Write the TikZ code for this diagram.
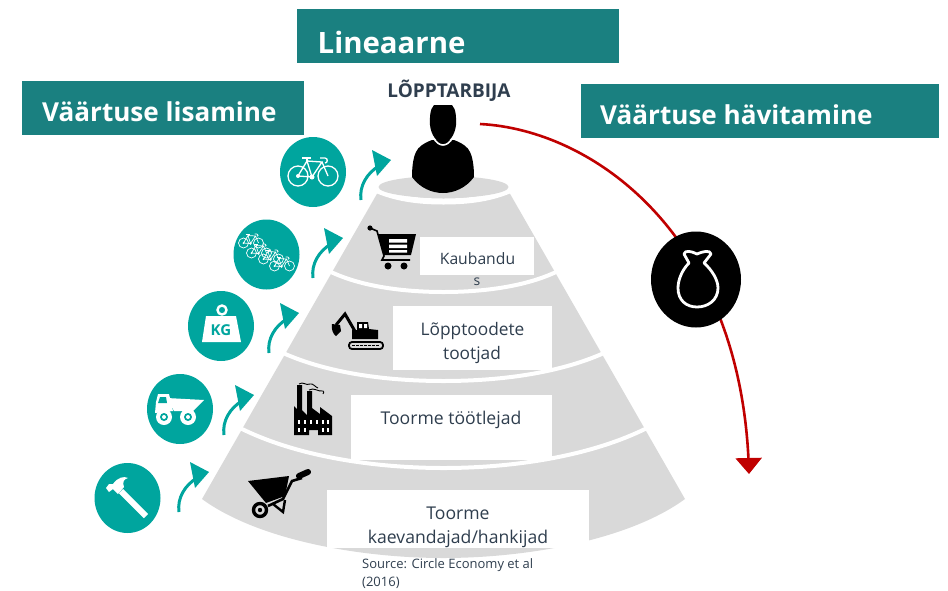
\documentclass[tikz,border=0pt]{standalone}
\usepackage{fontspec}
\setmainfont{Open Sans}
\usetikzlibrary{arrows.meta,bending}
\definecolor{headteal}{HTML}{1A8080}
\definecolor{circteal}{HTML}{00A59E}
\definecolor{pyrgrey}{HTML}{D9D9D9}
\definecolor{inkdark}{HTML}{2F3E4E}
\definecolor{redline}{HTML}{C00000}
\tikzset{
  x=1pt,y=-1pt,
  headbox/.style={fill=headteal,draw=none,inner sep=0pt,anchor=north west},
  headtext/.style={text=white,font=\bfseries,inner sep=0pt,anchor=base west},
  whitebox/.style={fill=white,draw=none,inner sep=0pt,anchor=north west},
  bodytext/.style={text=inkdark,inner sep=0pt,anchor=base,font=\fontsize{17.6}{20}\selectfont},
  band/.style={draw=white,line width=4pt},
  bike/.pic={
    \draw[white,line width=#1] (-15,4) circle[radius=10] (15,4) circle[radius=10];
    \draw[white,line width=#1] (-15,4) -- (-6,-11) -- (9,-10) -- (-1,5) -- cycle (-6,-11) -- (-1,5) (9,-10) -- (15,4);
    \draw[white,line width=#1] (-11,-14) -- (-2,-14) (-6,-14) -- (-6,-11);
    \draw[white,line width=#1] (7,-14) -- (12,-14) .. controls (15,-14) and (15,-9) .. (12,-9);
    \fill[white] (-1,5) circle[radius=2.5] (-15,4) circle[radius=2];
  },
  risearrow/.pic={
    \fill[circteal] (30,-40) -- (11,-50) -- (16,-24) -- cycle;
    \draw[circteal,line width=3pt] (0,0) .. controls (-2,-14) and (6,-27) .. (18,-34);
  }
}
\begin{document}
\begin{tikzpicture}
\useasboundingbox (0,0) rectangle (948,590);
% pyramid
\fill[pyrgrey] (378,192) -- (202,499) .. controls (258,540) and (360,558) .. (443.5,558) .. controls (527,558) and (629,540) .. (685,499) -- (509,192) -- cycle;
\draw[band,line width=6pt] (372,188) .. controls (395,199) and (420,201.5) .. (443.5,201.5) .. controls (467,201.5) and (492,199) .. (515,188);
\fill[pyrgrey] (443.5,187) ellipse[x radius=65pt,y radius=11pt];
\draw[band] (331,272) .. controls (365,288) and (410,292) .. (443.5,292) .. controls (477,292) and (522,288) .. (556,272);
\draw[band] (283,353) .. controls (330,374) and (390,381) .. (443.5,381) .. controls (497,381) and (557,374) .. (604,353);
\draw[band] (240,428) .. controls (300,458) and (380,468) .. (443.5,468) .. controls (507,468) and (587,458) .. (647,428);
% header boxes
\node[headbox,minimum width=322pt,minimum height=54pt] (hLin) at (297,9) {};
\node[headbox,minimum width=282pt,minimum height=54pt] (hAdd) at (22,81) {};
\node[headbox,minimum width=358pt,minimum height=54pt] (hDes) at (581,84) {};
\node[headtext,font=\bfseries\fontsize{29.4}{34}\selectfont] (tLin) at (317.5,53) {Lineaarne};
\node[headtext,font=\bfseries\fontsize{26.1}{30}\selectfont] (tAdd) at (42,121) {Väärtuse lisamine};
\node[headtext,font=\bfseries\fontsize{26.1}{30}\selectfont] (tDes) at (600,124) {Väärtuse hävitamine};
\node[text=inkdark,inner sep=0pt,anchor=base,font=\bfseries\fontsize{19}{22}\selectfont] (tTop) at (449,97) {LÕPPTARBIJA};
% white boxes
\node[whitebox,minimum width=114pt,minimum height=38pt] (b1) at (420,237) {};
\node[whitebox,minimum width=159pt,minimum height=64pt] (b2) at (393,306) {};
\node[whitebox,minimum width=201pt,minimum height=65pt] (b3) at (351,395) {};
\node[whitebox,minimum width=262pt,minimum height=58pt] (b4) at (327,490) {};
% body text
\node[bodytext,font=\fontsize{15.7}{18}\selectfont] (k1) at (477.5,264) {Kaubandu};
\node[bodytext,font=\fontsize{14}{16}\selectfont] (k2) at (477,285) {s};
\node[bodytext,font=\fontsize{17.3}{20}\selectfont] (l1) at (472.5,335) {Lõpptoodete};
\node[bodytext,font=\fontsize{17.3}{20}\selectfont] (l2) at (472,359) {tootjad};
\node[bodytext] (tt) at (451,424) {Toorme töötlejad};
\node[bodytext] (r1) at (458,519) {Toorme};
\node[bodytext] (r2) at (458,543) {kaevandajad/hankijad};
\node[text=inkdark,inner sep=0pt,anchor=base west,font=\fontsize{13}{15}\selectfont] (s1) at (362,568) {Source: Circle Economy et al};
\node[text=inkdark,inner sep=0pt,anchor=base west,font=\fontsize{13}{15}\selectfont] (s2) at (362,586) {(2016)};
% teal circles
\fill[circteal] (313,172) ellipse[x radius=33pt,y radius=35pt];
\fill[circteal] (266.5,254.5) ellipse[x radius=33pt,y radius=35pt];
\fill[circteal] (221,326) ellipse[x radius=33pt,y radius=35pt];
\fill[circteal] (180,409) ellipse[x radius=33pt,y radius=35pt];
\fill[circteal] (127.5,498) ellipse[x radius=33pt,y radius=35pt];
% teal arrows
\pic at (361,200) {risearrow};
\pic at (313,278) {risearrow};
\pic at (269,353) {risearrow};
\pic at (224,435) {risearrow};
\pic at (179,512) {risearrow};
% bicycles
\pic at (313,172) {bike={1.3pt}};
\pic[scale=.5] at (251,241) {bike={.7pt}};
\pic[scale=.5] at (259,251) {bike={.7pt}};
\pic[scale=.5] at (271,257) {bike={.7pt}};
\pic[scale=.5] at (282,264) {bike={.7pt}};
% kg weight
\fill[white] (206,316) -- (236,316) -- (241,342) -- (202,342) -- cycle;
\draw[white,line width=2.4pt] (222,310) circle[radius=4.5pt];
\node[text=circteal,inner sep=0pt,font=\bfseries\fontsize{15}{17}\selectfont] (kg) at (221,330) {KG};
% dump truck
\fill[white] (167,398) -- (204,400) -- (193,411) -- (174,411) -- cycle;
\fill[white] (158,394) -- (169,394) -- (173,411) -- (155,413) -- (156,402) -- cycle;
\fill[circteal] (160,397) -- (166,397) -- (167,403) -- (158,403) -- cycle;
\fill[white] (164,417) circle[radius=8pt] (188,417) circle[radius=8pt];
\fill[circteal] (164,417) circle[radius=4pt] (188,417) circle[radius=4pt];
\fill[white] (164,417) circle[radius=2pt] (188,417) circle[radius=2pt];
% hammer
\draw[white,line width=6pt] (121,491) -- (146,516);
\fill[white] (106,488) -- (109,484) -- (113,484) .. controls (118,477) and (124,476) .. (128,478) .. controls (124,479) and (122,482) .. (124,487) -- (118,494) -- (113,489) -- (109,492) -- cycle;
% wheelbarrow
\fill[black] (248,481) -- (289,476) -- (285,496) -- (266,503) -- cycle;
\draw[black,line width=2.6pt] (268,506) -- (283,499) -- (292,481) -- (302,478);
\draw[black,line width=2.4pt] (273,504) -- (283,512) -- (285,500);
\draw[black,line width=6pt,line cap=round] (299,476) -- (308,472);
\draw[black,line width=3.4pt] (260,510) circle[radius=6.5pt];
\fill[black] (260,510) circle[radius=2.2pt];
% factory
\fill[black] (294,435) -- (294,406) -- (297,409) -- (297,385) -- (302,385) -- (302,410) -- (307,415) -- (307,391) -- (312,391) -- (312,408) -- (320,414) -- (320,407) -- (332,416) -- (332,435) -- (318,435) -- (318,430) -- (309,430) -- (309,435) -- cycle;
\foreach \xx in {298,304,310,316,322,327} {\fill[white] (\xx,420) rectangle ++(2,4);}
\foreach \xx in {298,304,322,327} {\fill[white] (\xx,428) rectangle ++(2,4);}
\draw[black,line width=.9pt] (299,384) .. controls (303,381) and (306,386) .. (310,384) .. controls (313,383) and (315,387) .. (318,388);
\draw[black,line width=.9pt] (309,390) .. controls (314,387) and (318,392) .. (323,391) .. controls (325,391) and (323,393) .. (323,394);
% excavator
\fill[black] (357,322) -- (368,322) -- (369,329) -- (378,330) -- (378,339) -- (352,339) -- (352,330) -- (357,330) -- cycle;
\fill[white] (359,324) rectangle (362,328) (364,324) rectangle (367,328);
\draw[black,line width=3pt] (356,333) -- (345,314) -- (336,325);
\fill[black] (332,324) -- (340,325) -- (341,331) -- (336,336) .. controls (333,334) and (331,329) .. (332,324);
\draw[black,line width=1.8pt,rounded corners=3pt] (349,342) rectangle (383,349);
\draw[black,line width=1.4pt,dash pattern=on 3pt off 1pt] (352,345.5) -- (380,345.5);
% cart
\draw[black,line width=1.6pt] (370,228) -- (377,231) -- (384,256) -- (382,260) -- (410,260);
\fill[black] (370,228) circle[radius=2.6pt];
\fill[black] (378,234) -- (416,234) -- (411,255) -- (384,255) -- cycle;
\fill[white] (389,239) rectangle (407,242.5) (389,244.5) rectangle (407,248) (389,250) rectangle (407,252.5);
\fill[black] (388,266) circle[radius=3.5pt] (404,266) circle[radius=3.5pt];
% person
\fill[black] (432,140) .. controls (424,143) and (418,147) .. (416,152) .. controls (413,158) and (412,168) .. (412,177) .. controls (420,188) and (432,193) .. (443,193) .. controls (454,193) and (466,188) .. (474,177) .. controls (474,168) and (473,158) .. (470,152) .. controls (468,147) and (462,143) .. (454,140) -- cycle;
\draw[white,line width=1.6pt] (433,137) .. controls (436,143) and (440,145) .. (443,145) .. controls (446,145) and (450,143) .. (453,137);
\fill[black] (434,105) -- (452,105) .. controls (456,109) and (456.5,118) .. (456,125) .. controls (455,135) and (449,143) .. (443,143) .. controls (437,143) and (431,135) .. (430,125) .. controls (429.5,118) and (430,109) .. (434,105) -- cycle;
% red arrow
\coordinate (redS) at (480,124);
\coordinate (redE) at (749,474);
\draw[redline,line width=2.6pt,-{Triangle[length=16pt,width=26pt,flex=0]}] (redS) .. controls (597,130) and (744,240) .. (redE);
% bag
\node[fill=black,draw=none,inner sep=0pt,minimum size=0pt] (bagc) at (696,279.5) {};
\fill[black] (bagc) ellipse[x radius=45pt,y radius=48pt];
\draw[white,line width=2.8pt,line join=round] (689,263) .. controls (682,270) and (678,280) .. (678,288) .. controls (678,300) and (686,307) .. (697,307) .. controls (708,307) and (718,300) .. (718,288) .. controls (718,280) and (712,270) .. (704,263) -- (711,254) .. controls (710,250) and (704,251) .. (697,254) .. controls (691,251) and (685,250) .. (684,254) -- cycle;
\end{tikzpicture}
\end{document}
